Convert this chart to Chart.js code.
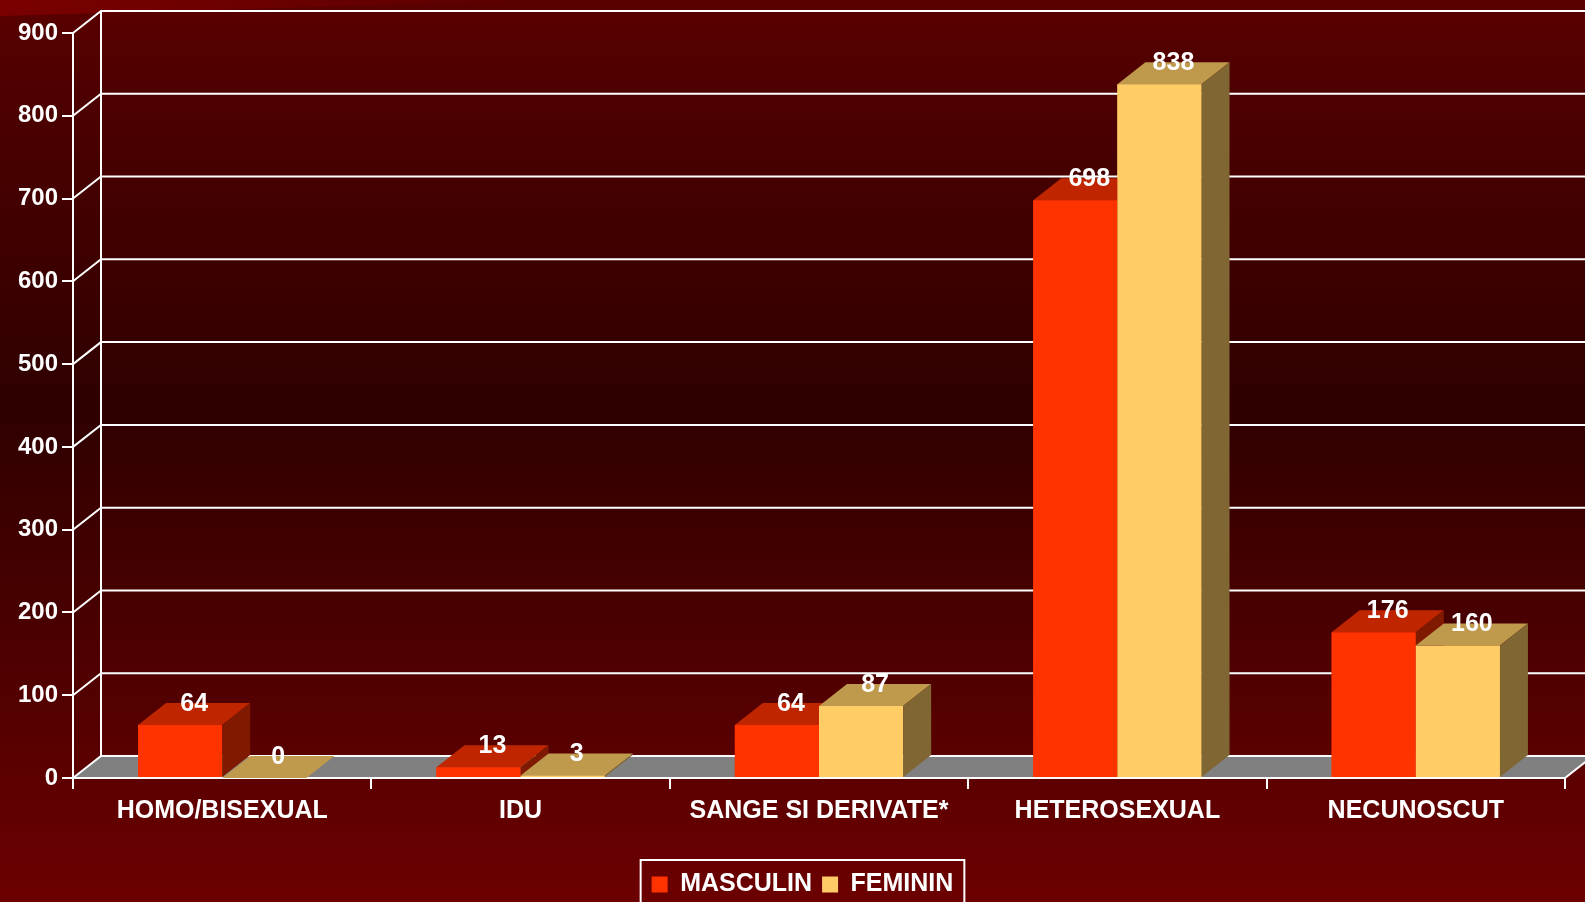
<!DOCTYPE html>
<html>
<head>
<meta charset="utf-8">
<script src="https://cdn.jsdelivr.net/npm/chart.js@4.4.1/dist/chart.umd.min.js"></script>
<style>
  html, body { margin: 0; padding: 0; overflow: hidden; background: #3a0000; }
  #wrap { width: 1605px; height: 920px; }
</style>
</head>
<body>
<div id="wrap"><canvas id="chart-3d" width="1605" height="920"></canvas></div>
<script>
const categories = ['HOMO/BISEXUAL', 'IDU', 'SANGE SI DERIVATE*', 'HETEROSEXUAL', 'NECUNOSCUT'];
const seriesNames = ['MASCULIN', 'FEMININ'];
const masculin = [64, 13, 64, 698, 176];
const feminin = [0, 3, 87, 838, 160];
const yMin = 0, yMax = 900, yStep = 100;

// front / top / side shades for each series
const shades = [
  { front: '#ff3300', top: '#bf2600', side: '#7f1a00' },
  { front: '#ffcc66', top: '#bf994c', side: '#806633' }
];
const DX = 28, DY = -22;   // depth of the 3d box
const FONT = 'Arial, "Liberation Sans", sans-serif';

const scene3d = {
  id: 'scene3d',
  beforeDraw(chart) {
    const ctx = chart.ctx, W = chart.width, H = chart.height;
    const { left, right } = chart.chartArea;
    const y = chart.scales.y;
    ctx.save();
    const g = ctx.createLinearGradient(0, 0, 0, 902);
    g.addColorStop(0, '#5a0000');
    g.addColorStop(0.1, '#4e0000');
    g.addColorStop(0.45, '#2f0000');
    g.addColorStop(1, '#6c0000');
    ctx.fillStyle = g;
    ctx.fillRect(0, 0, W, H);
    // lighter sheen in the top-left corner
    const sg = ctx.createLinearGradient(0, 0, 560, 0);
    sg.addColorStop(0, 'rgba(130,0,0,0.8)');
    sg.addColorStop(1, 'rgba(130,0,0,0)');
    ctx.fillStyle = sg;
    ctx.beginPath();
    ctx.moveTo(0, 0); ctx.lineTo(560, 0); ctx.lineTo(0, 16); ctx.closePath();
    ctx.fill();

    // floor
    const y0 = y.getPixelForValue(yMin);
    ctx.fillStyle = '#808080';
    ctx.beginPath();
    ctx.moveTo(left, y0); ctx.lineTo(right, y0);
    ctx.lineTo(right + DX, y0 + DY); ctx.lineTo(left + DX, y0 + DY);
    ctx.closePath(); ctx.fill();

    // back wall grid + left wall connectors
    ctx.strokeStyle = '#ffffff';
    ctx.lineWidth = 2;
    for (let v = yMin; v <= yMax; v += yStep) {
      const py = y.getPixelForValue(v);
      ctx.beginPath();
      ctx.moveTo(left, py);
      ctx.lineTo(left + DX, py + DY);
      ctx.lineTo(W + 10, py + DY);
      ctx.stroke();
    }
    ctx.beginPath();
    ctx.moveTo(left + DX, y.getPixelForValue(yMax) + DY);
    ctx.lineTo(left + DX, y0 + DY);
    ctx.stroke();
    // right edge of floor
    ctx.beginPath();
    ctx.moveTo(right, y0); ctx.lineTo(right + DX, y0 + DY);
    ctx.stroke();
    ctx.restore();
  },
  afterDatasetsDraw(chart) {
    const ctx = chart.ctx;
    ctx.save();
    for (let i = 0; i < categories.length; i++) {
      chart.data.datasets.forEach((ds, d) => {
        const el = chart.getDatasetMeta(d).data[i];
        const { x, y, base, width } = el.getProps(['x', 'y', 'base', 'width'], true);
        const l = x - width / 2, r = x + width / 2;
        const c = shades[d];
        // front
        ctx.fillStyle = c.front;
        ctx.fillRect(l, y, width, base - y);
        // top
        ctx.fillStyle = c.top;
        ctx.beginPath();
        ctx.moveTo(l, y); ctx.lineTo(r, y); ctx.lineTo(r + DX, y + DY); ctx.lineTo(l + DX, y + DY);
        ctx.closePath(); ctx.fill();
        // side
        ctx.fillStyle = c.side;
        ctx.beginPath();
        ctx.moveTo(r, y); ctx.lineTo(r + DX, y + DY); ctx.lineTo(r + DX, base + DY); ctx.lineTo(r, base);
        ctx.closePath(); ctx.fill();
      });
    }
    // value labels
    ctx.fillStyle = '#ffffff';
    ctx.font = 'bold 25px ' + FONT;
    ctx.textAlign = 'center';
    ctx.textBaseline = 'middle';
    chart.data.datasets.forEach((ds, d) => {
      chart.getDatasetMeta(d).data.forEach((el, i) => {
        const { x, y } = el.getProps(['x', 'y'], true);
        ctx.fillText(String(ds.data[i]), x + DX / 2, y + DY + 1);
      });
    });
    ctx.restore();
  },
  afterDraw(chart) {
    const lg = chart.legend;
    if (!lg || !lg.legendHitBoxes || !lg.legendHitBoxes.length) return;
    const hb = lg.legendHitBoxes;
    const l = Math.min(...hb.map(h => h.left)) - 11;
    const r = Math.max(...hb.map(h => h.left + h.width)) + 11;
    const t = hb[0].top - 12;
    const ctx = chart.ctx;
    ctx.save();
    ctx.strokeStyle = '#ffffff';
    ctx.lineWidth = 2;
    ctx.strokeRect(l, t, r - l, 80);
    ctx.restore();
  }
};

new Chart(document.getElementById('chart-3d'), {
  type: 'bar',
  data: {
    labels: categories,
    datasets: [
      { label: seriesNames[0], data: masculin, backgroundColor: shades[0].front, borderWidth: 0 },
      { label: seriesNames[1], data: feminin, backgroundColor: shades[1].front, borderWidth: 0 }
    ]
  },
  options: {
    responsive: false, animation: false,
    layout: { padding: { left: 0, right: 0, top: 33, bottom: 13 } },
    datasets: { bar: { categoryPercentage: 0.564, barPercentage: 1 } },
    plugins: {
      tooltip: { enabled: false },
      legend: {
        position: 'bottom',
        labels: {
          color: '#ffffff', boxWidth: 16, boxHeight: 16, padding: 10,
          font: { family: FONT, size: 25, weight: 'bold' }
        }
      }
    },
    scales: {
      x: {
        ticks: { color: '#ffffff', font: { family: FONT, size: 25, weight: 'bold' }, padding: 7, maxRotation: 0, autoSkip: false },
        grid: { drawOnChartArea: false, offset: true, color: '#ffffff', tickLength: 11, lineWidth: 2 },
        border: { color: '#ffffff', width: 2 },
        afterFit(s) { s.height = 84; }
      },
      y: {
        min: yMin, max: yMax,
        ticks: { stepSize: yStep, color: '#ffffff', font: { family: FONT, size: 24, weight: 'bold' }, padding: 4 },
        grid: { drawOnChartArea: false, color: '#ffffff', tickLength: 11, lineWidth: 2 },
        border: { color: '#ffffff', width: 2 },
        afterFit(s) { s.width = 73; }
      },
      // empty right-hand strip for the 3d depth, so the legend centres like the original
      yDepth: {
        position: 'right', min: yMin, max: yMax,
        ticks: { display: false }, grid: { display: false }, border: { display: false },
        afterFit(s) { s.width = 40; }
      }
    }
  },
  plugins: [scene3d]
});
</script>
</body>
</html>
